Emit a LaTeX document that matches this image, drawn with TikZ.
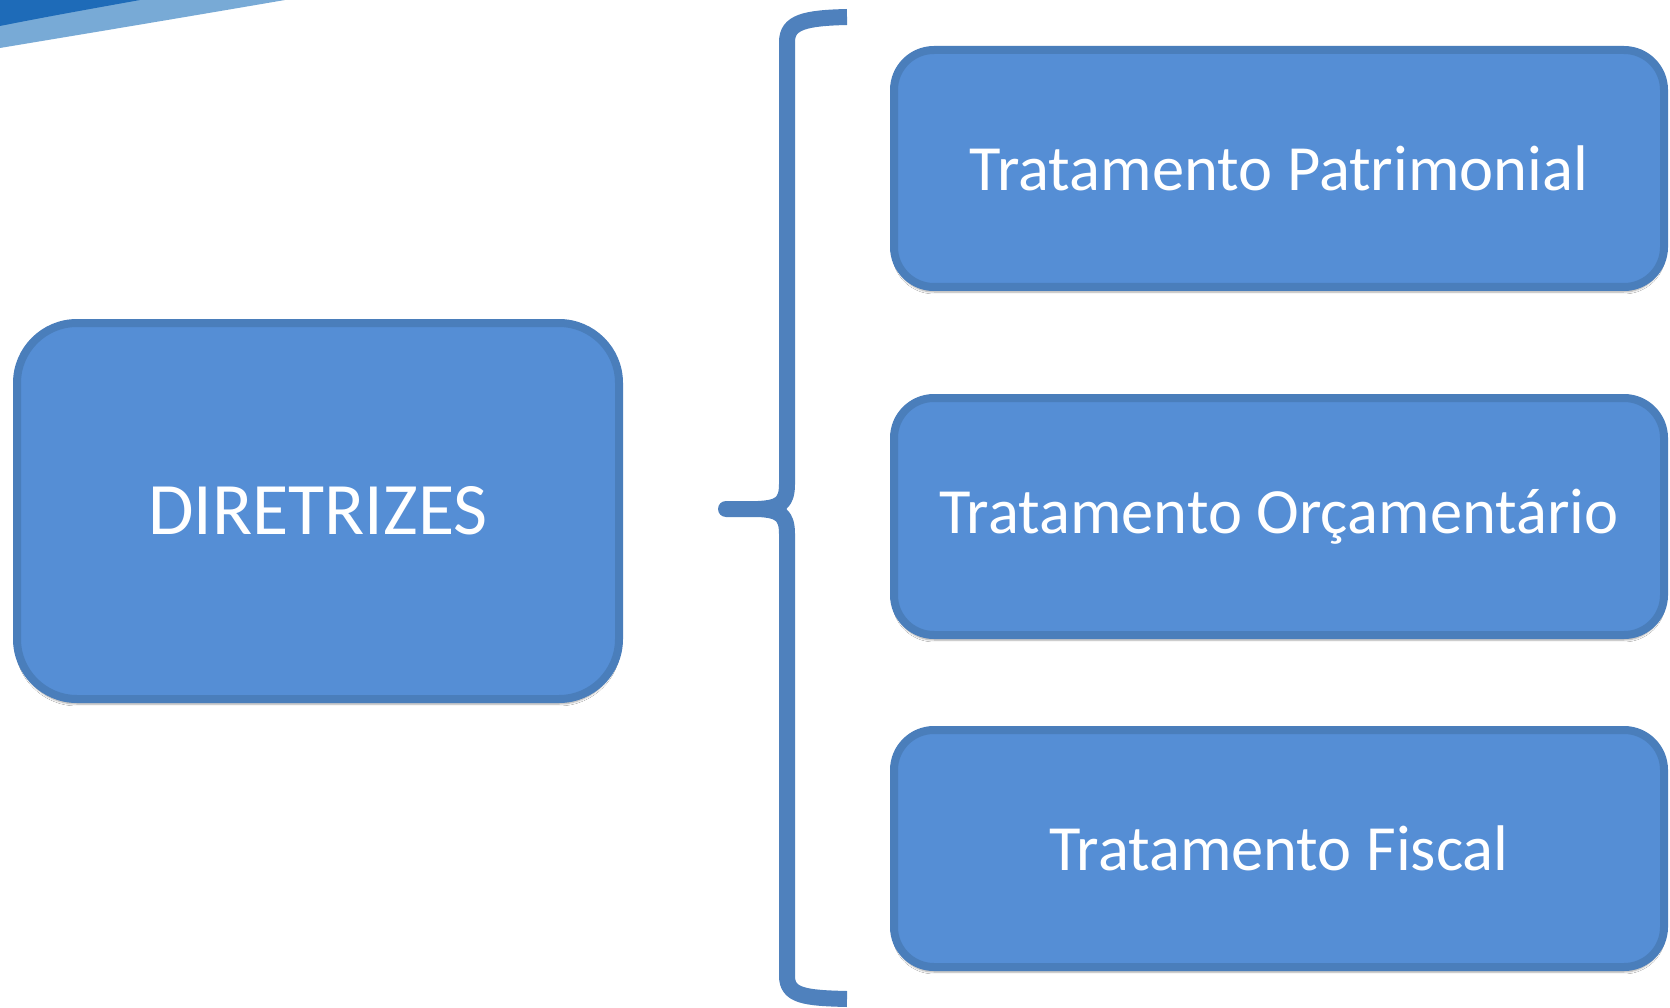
\documentclass[tikz,border=0pt]{standalone}
\usepackage{fontspec}
\setmainfont{Carlito}
\usetikzlibrary{shadows.blur}
\definecolor{boxfill}{HTML}{558ED5}
\definecolor{boxline}{HTML}{4A7EBB}
\definecolor{bracec}{HTML}{4F81BD}
\definecolor{swdark}{HTML}{1E6BB8}
\definecolor{swlight}{HTML}{78AAD6}
\tikzset{
  bluebox/.style={draw=boxline, fill=boxfill, line width=8pt, text=white,
    inner sep=0pt,
    blur shadow={shadow xshift=0pt, shadow yshift=-5pt, shadow blur steps=6, shadow opacity=35}},
  leftbox/.style={bluebox, font=\fontsize{74}{84}\selectfont, rounded corners=60pt, minimum width=602pt, minimum height=376pt},
  rightbox/.style={bluebox, font=\fontsize{64.5}{76}\selectfont, rounded corners=40pt, minimum width=770pt, minimum height=237pt},
  bracestyle/.style={draw=bracec, line width=16pt, line join=round, line cap=butt}
}
\begin{document}
\begin{tikzpicture}[x=1pt,y=-1pt]
\path[use as bounding box, fill=white] (0,0) rectangle (1670,1008);
% swoosh
\fill[swlight] (0,0) -- (285,0) .. controls (180,18) and (90,33) .. (0,48) -- cycle;
\fill[swdark] (0,0) -- (140,0) .. controls (90,9) and (45,17) .. (0,26) -- cycle;
% boxes
\node[leftbox] (dir) at (318,511) {DIRETRIZES};
\node[rightbox] (pat) at (1279,168.5) {Tratamento Patrimonial};
\node[rightbox] (orc) at (1279,516.5) {Tratamento Orçamentário};
\node[rightbox] (fis) at (1279,848.5) {Tratamento Fiscal};
% brace
\coordinate (btop) at (847,17);
\coordinate (btip) at (726,509);
\coordinate (bbot) at (847,999);
\draw[bracestyle] (btop) .. controls (805,18) and (787,22) .. (787,42)
  -- (787,484) .. controls (787,503) and (780,508) .. (758,509) -- (btip)
  -- (758,509) .. controls (780,510) and (787,515) .. (787,534)
  -- (787,976) .. controls (787,996) and (805,998) .. (bbot);
\end{tikzpicture}
\end{document}
